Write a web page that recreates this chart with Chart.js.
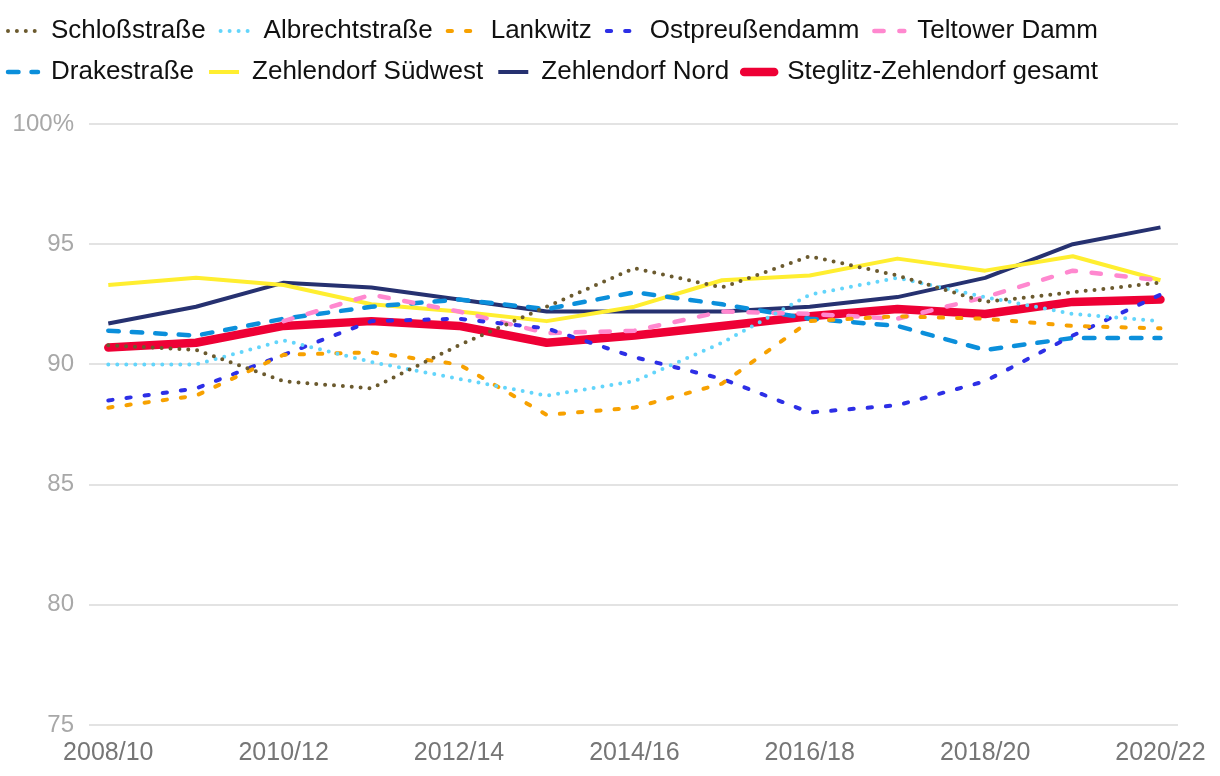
<!DOCTYPE html>
<html><head><meta charset="utf-8">
<script src="https://cdn.jsdelivr.net/npm/chart.js@4/dist/chart.umd.min.js"></script>
<style>html,body{margin:0;padding:0;background:#fff}#wrap{width:1220px;height:776px;position:relative}</style>
</head><body><div id="wrap"><canvas id="c"></canvas></div>
<script>
const periods = ['2008/10','2009/11','2010/12','2011/13','2012/14','2013/15','2014/16','2015/17','2016/18','2017/19','2018/20','2019/21','2020/22'];
const xTickIndices = [0,2,4,6,8,10,12];
const yTicks = [75,80,85,90,95,100];
const schlossstrasse = [90.8,90.6,89.3,89.0,90.8,92.4,94.0,93.2,94.5,93.7,92.6,93.0,93.4];
const albrechtstrasse = [90.0,90.0,91.0,90.1,89.4,88.7,89.3,90.9,92.9,93.6,92.8,92.1,91.8];
const lankwitz = [88.2,88.7,90.4,90.5,90.0,87.9,88.2,89.2,91.8,92.0,91.9,91.6,91.5];
const ostpreussendamm = [88.5,89.0,90.4,91.8,91.9,91.5,90.3,89.4,88.0,88.3,89.3,91.2,92.9];
const teltowerDamm = [null,null,91.8,92.9,92.2,91.3,91.4,92.2,92.1,91.9,92.8,93.9,93.5];
const drakestrasse = [91.4,91.2,91.9,92.4,92.7,92.3,93.0,92.5,91.9,91.6,90.6,91.1,91.1];
const zehlendorfSuedwest = [93.3,93.6,93.3,92.5,92.2,91.8,92.4,93.5,93.7,94.4,93.9,94.5,93.5];
const zehlendorfNord = [91.7,92.4,93.4,93.2,92.7,92.2,92.2,92.2,92.4,92.8,93.6,95.0,95.7];
const gesamt = [90.7,90.9,91.6,91.8,91.6,90.9,91.2,91.6,92.0,92.3,92.1,92.6,92.7];

const FONT = '"Liberation Sans", Arial, Helvetica, sans-serif';
function mk(label, values, color, width, dash, cap) {
  return {
    label,
    data: values.map((v, i) => ({x: i, y: v})),
    borderColor: color,
    backgroundColor: color,
    borderWidth: width,
    borderDash: dash,
    borderCapStyle: cap,
    borderJoinStyle: 'round',
    pointRadius: 0,
    pointHoverRadius: 0,
    tension: 0,
    fill: false,
    spanGaps: false
  };
}
const datasets = [
  mk('Schloßstraße', schlossstrasse, '#6b5a2e', 4, [0, 8.9], 'round'),
  mk('Albrechtstraße', albrechtstrasse, '#63d5fb', 4, [0, 9], 'round'),
  mk('Lankwitz', lankwitz, '#f7a100', 4, [4.3, 14], 'round'),
  mk('Ostpreußendamm', ostpreussendamm, '#2d2fe6', 4, [4.3, 14], 'round'),
  mk('Teltower Damm', teltowerDamm, '#ff88cf', 4.5, [9.3, 15.7], 'round'),
  mk('Drakestraße', drakestrasse, '#0b8fdb', 4.5, [10.5, 13], 'round'),
  mk('Zehlendorf Südwest', zehlendorfSuedwest, '#ffee30', 4, [], 'butt'),
  mk('Zehlendorf Nord', zehlendorfNord, '#263170', 4, [], 'butt'),
  mk('Steglitz-Zehlendorf gesamt', gesamt, '#ee0035', 8.5, [], 'round')
];

const legendSpace = {
  id: 'legendSpace',
  beforeUpdate(chart) {
    const lg = chart.legend;
    if (lg && !lg._spacePatched) {
      const orig = lg.fit;
      lg.fit = function() { orig.call(this); this.height += 29; };
      lg._spacePatched = true;
    }
  }
};

new Chart(document.getElementById('c'), {
  type: 'line',
  data: { datasets },
  plugins: [legendSpace],
  options: {
    responsive: true,
    maintainAspectRatio: false,
    animation: false,
    events: [],
    layout: { padding: { left: -7, right: 42, top: 3, bottom: 3 } },
    plugins: {
      tooltip: { enabled: false },
      legend: {
        position: 'top',
        align: 'start',
        labels: {
          usePointStyle: true,
          pointStyle: 'line',
          pointStyleWidth: 30,
          padding: 15,
          color: '#111111',
          font: { size: 26, family: FONT },
          generateLabels: chart => chart.data.datasets.map((ds, i) => ({
            text: ds.label,
            fillStyle: ds.borderColor,
            strokeStyle: ds.borderColor,
            fontColor: '#111111',
            lineWidth: ds.borderWidth,
            lineDash: ds.borderDash,
            lineCap: ds.borderCapStyle,
            lineJoin: 'round',
            pointStyle: 'line',
            hidden: false,
            datasetIndex: i
          }))
        }
      }
    },
    scales: {
      x: {
        type: 'linear',
        min: -0.22,
        max: 12.2,
        afterBuildTicks: s => { s.ticks = xTickIndices.map(v => ({value: v})); },
        ticks: {
          autoSkip: false,
          maxRotation: 0,
          padding: 5,
          color: '#767676',
          font: { size: 25, family: FONT },
          callback: v => periods[v]
        },
        grid: { display: false },
        border: { display: false }
      },
      y: {
        min: 75,
        max: 100,
        afterBuildTicks: s => { s.ticks = yTicks.map(v => ({value: v})); },
        afterFit: s => { s.width = 96; },
        ticks: {
          padding: 15,
          color: '#a8a8a8',
          font: { size: 24, family: FONT },
          callback: v => (v === 100 ? '100%' : String(v))
        },
        grid: { color: '#e3e3e3', lineWidth: 2, drawTicks: false },
        border: { display: false }
      }
    }
  }
});
</script>
</body></html>
